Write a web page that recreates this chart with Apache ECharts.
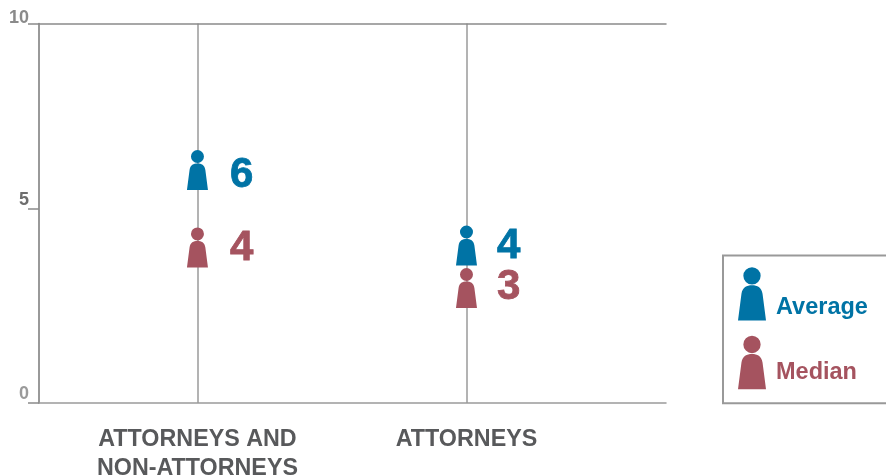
<!DOCTYPE html>
<html>
<head>
<meta charset="utf-8">
<style>html,body{margin:0;padding:0;background:#fff}#c{width:886px;height:476px}</style>
<script src="https://cdn.jsdelivr.net/npm/echarts@6/dist/echarts.min.js"></script>
</head>
<body>
<div id="c"></div>
<script>
const categories = ['ATTORNEYS AND\nNON-ATTORNEYS', 'ATTORNEYS'];
const averageValues = [6.14, 4.15];
const medianValues = [4.1, 3.03];
const averageLabels = ['6', '4'];
const medianLabels = ['4', '3'];
const yTicks = [0, 5.11, 10];
const yLabelAnchors = [0, 5.11, 9.92];

const BLUE = '#0073a5';
const RED = '#a5535f';
const PERSON = 'path://M10.5 0A6.5 6.5 0 1 1 10.5 13A6.5 6.5 0 1 1 10.5 0ZM10.5 13.6C6.5 13.6 3.4 15 2.6 20L0 40L21 40L18.4 20C17.6 15 14.5 13.6 10.5 13.6Z';
const FONT = '"Liberation Sans", Arial, sans-serif';
const tickColors = {0: '#9a9a9a', 5: '#6e6e6e', 10: '#8a8a8a'};

function points(values, labels, nudges) {
  return values.map((v, i) => ({ value: [i, v], label: { formatter: labels[i], offset: nudges[i] } }));
}
function series(name, values, labels, color, nudges) {
  return {
    name, type: 'scatter', symbol: PERSON, symbolSize: [21, 40], z: 5,
    itemStyle: { color, opacity: 1 },
    label: { show: true, position: 'right', distance: 21, color, fontFamily: FONT, fontWeight: 'bold', fontSize: 42, textBorderColor: color, textBorderWidth: 0.8 },
    data: points(values, labels, nudges)
  };
}

const chart = echarts.init(document.getElementById('c'), null, { renderer: 'canvas' });
const indices = categories.map((_, i) => i);
chart.setOption({
  animation: false,
  backgroundColor: '#fff',
  grid: { left: 39, right: 220, top: 23.5, bottom: 73, outerBoundsMode: 'none' },
  xAxis: [{
    type: 'value', position: 'bottom', min: -0.589, max: 1.7416,
    axisLine: { show: true, onZero: false, lineStyle: { color: '#9a9a9a', width: 1.5 } },
    axisTick: { show: false, customValues: indices },
    axisLabel: {
      show: true, customValues: indices, margin: 22, lineHeight: 29,
      formatter: v => categories[v], color: '#58595b', fontFamily: FONT, fontWeight: 'bold', fontSize: 23.3,
      hideOverlap: false, showMinLabel: true, showMaxLabel: true, verticalAlign: 'top'
    },
    splitLine: { show: true, lineStyle: { color: '#9a9a9a', width: 1.5 } }
  }, {
    type: 'value', position: 'top', min: -0.589, max: 1.7416,
    axisLine: { show: true, onZero: false, lineStyle: { color: '#8a8a8a', width: 1.5 } },
    axisTick: { show: false }, axisLabel: { show: false }, splitLine: { show: false }
  }],
  yAxis: {
    type: 'value', min: 0, max: 10,
    axisLine: { show: true, onZero: false, lineStyle: { color: '#777', width: 1.5 } },
    axisTick: { show: true, length: 11, customValues: yTicks, lineStyle: { color: '#8a8a8a', width: 1.5 } },
    axisLabel: {
      margin: 10, verticalAlign: 'bottom', fontFamily: FONT, fontWeight: 'bold', fontSize: 18,
      customValues: yLabelAnchors, formatter: v => String(Math.round(v)),
      color: v => tickColors[Math.round(v)]
    },
    splitLine: { show: false }
  },
  legend: {
    show: true, left: 723, top: 255.5, orient: 'vertical', align: 'left',
    padding: [10.3, 40, 14, 15], itemWidth: 28, itemHeight: 54, itemGap: 14,
    borderColor: '#999', borderWidth: 2, backgroundColor: '#fff',
    selectedMode: false,
    formatter: name => '\n' + name,
    textStyle: { fontFamily: FONT, fontWeight: 'bold', fontSize: 23.5, padding: [0, 0, 0, 5] },
    data: [
      { name: 'Average', icon: PERSON, itemStyle: { color: BLUE }, textStyle: { color: BLUE, lineHeight: 28 } },
      { name: 'Median', icon: PERSON, itemStyle: { color: RED }, textStyle: { color: RED, lineHeight: 20 } }
    ]
  },
  series: [
    series('Average', averageValues, averageLabels, BLUE, [[1, 5], [-1, 1]]),
    series('Median', medianValues, medianLabels, RED, [[1, 1], [-1, -1]])
  ]
});
</script>
</body>
</html>
